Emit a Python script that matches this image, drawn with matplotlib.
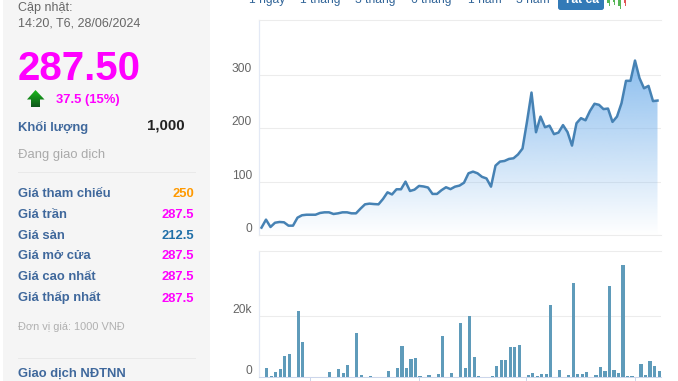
import numpy as np
import matplotlib
matplotlib.use("Agg")
import matplotlib.pyplot as plt
from matplotlib.patches import Rectangle, Polygon, FancyBboxPatch

plt.rcParams['font.family'] = ['Liberation Sans', 'DejaVu Sans']

# ---- data ----
price = [13.8, 28.8, 15, 23, 24.4, 23.8, 17.5, 17.5, 32.5, 37, 38, 38, 38, 41.3, 42.5, 42.5, 39.4, 40.6, 42.5, 42.5,
         40.6, 40.6, 49.4, 57.5, 58.8, 58, 57.5, 67.5, 80, 76, 85.7, 85.7, 100, 82.5, 85, 92, 91, 89, 77, 77,
         84, 89.5, 86, 90.6, 92.6, 98, 115.7, 118.8, 115.7, 109, 106, 90.6, 130, 137.6, 138.8, 142.6, 143.8, 151, 162, 212.5,
         267, 192.6, 222, 202, 205, 189, 192, 206, 193, 167.6, 209.5, 219, 215, 232.6, 246, 244, 236, 237, 212, 222,
         247, 289, 289, 327, 294, 275, 279.5, 251, 252]
volume = [0, 3000, 300, 1700, 2700, 6900, 7600, 0, 21600, 11300, 0, 0, 0, 0, 0, 1700, 0, 2700, 1300, 4000,
          0, 14200, 800, 0, 400, 0, 0, 0, 2100, 0, 3000, 10000, 3000, 6000, 6300, 400, 0, 700, 0, 1100,
          13200, 0, 1400, 0, 17600, 3000, 19800, 6600, 400, 0, 0, 400, 3700, 5600, 5600, 9900, 9600, 10500, 0, 800,
          1400, 400, 1100, 1100, 23400, 0, 2400, 0, 800, 30700, 1100, 1100, 1700, 0, 800, 3400, 2100, 29700, 2400, 1400,
          36500, 400, 400, 0, 4300, 800, 5300, 3700, 2100]
price_ticks = [0, 100, 200, 300]
price_labels = ['0', '100', '200', '300']
volume_ticks = [0, 20000]
volume_labels = ['0', '20k']
date_ticks = [10.6, 34.7, 58.5, 82.7]
ranges = ['1 ngày', '1 tháng', '3 tháng', '6 tháng', '1 năm', '3 năm']
range_centres = [267, 320.5, 375.5, 431, 485, 532.5]
info_rows = [('Giá tham chiếu', '250', '#ff9900', 197), ('Giá trần', '287.5', '#ff00ff', 218),
             ('Giá sàn', '212.5', '#1f6fa8', 239), ('Giá mở cửa', '287.5', '#ff00ff', 259),
             ('Giá cao nhất', '287.5', '#ff00ff', 280.5), ('Giá thấp nhất', '287.5', '#ff00ff', 301.5)]

W, H = 678, 381
fig = plt.figure(figsize=(W / 100, H / 100), dpi=100, facecolor='white')


def px_axes(l, t, r, b):
    return fig.add_axes([l / W, 1 - b / H, (r - l) / W, (b - t) / H], facecolor='none')


# ---- overlay in pixel coordinates ----
ov = fig.add_axes([0, 0, 1, 1], zorder=0)
ov.set_xlim(0, W)
ov.set_ylim(H, 0)
ov.axis('off')
ov.add_patch(Rectangle((3, -1), 207, H + 2, fc='#f5f5f5', ec='none'))
for y in (171.5, 357.5):
    ov.plot([18, 195], [y, y], color='#e9e9e9', lw=0.7)

LABEL = '#3f689c'
PT = 0.72


def t(x, y, s, size, color, bold=False, ha='left'):
    ov.text(x, y, s, fontsize=size * PT, color=color, fontweight='bold' if bold else 'normal',
            ha=ha, va='baseline')


t(18, 11, 'Cập nhật:', 12.5, '#666666')
t(18, 26, '14:20, T6, 28/06/2024', 12.5, '#666666')
t(18, 80, '287.50', 40.3, '#ff00ff', True)
t(56, 103, '37.5 (15%)', 13, '#ff00ff', True)
t(18, 130.5, 'Khối lượng', 13, LABEL, True)
t(185, 129, '1,000', 15, '#222222', True, ha='right')
t(18, 158, 'Đang giao dịch', 13, '#aaaaaa')
for name, val, col, y in info_rows:
    t(18, y, name, 13, LABEL, True)
    t(194, y, val, 13, col, True, ha='right')
t(18, 330, 'Đơn vị giá: 1000 VNĐ', 11, '#b0b0b0')
t(18, 377, 'Giao dịch NĐTNN', 13, LABEL, True)

# up arrow with a vertical green gradient
arrow = Polygon([(35.5, 90), (44.5, 99.5), (40, 99.5), (40, 107), (31, 107), (31, 99.5), (27, 99.5)],
                closed=True, fc='none', ec='none')
ov.add_patch(arrow)
grad = np.linspace(0, 1, 32)[:, None, None] * np.array([[[-0.05, -0.38, 0.0]]]) + np.array([[[0.1, 0.72, 0.1]]])
im = ov.imshow(grad, extent=(27, 44.5, 107, 90), aspect='auto', zorder=2)
im.set_clip_path(arrow)
ov.set_xlim(0, W)
ov.set_ylim(H, 0)

# range selector (clipped by the top of the picture)
for s, x in zip(ranges, range_centres):
    t(x, 3, s, 12, '#336699', ha='center')
ov.add_patch(FancyBboxPatch((558, -8), 46, 18, boxstyle='round,pad=0,rounding_size=2.5', fc='#337ab7', ec='none'))
t(581, 3, 'Tất cả', 12, 'white', True, ha='center')
for x, c, y0, y1 in ((608.5, '#55b555', -1, 3), (614, '#55b555', -1, 2), (619.5, '#55b555', -1, 6), (625, '#e05555', -1, 3)):
    ov.plot([x, x], [y0 - 1, y1 + 1.5], color=c, lw=0.7)
    ov.add_patch(Rectangle((x - 1.3, y0), 2.6, y1 - y0, fc=c, ec='none'))

# ---- price chart ----
ax = px_axes(259, 20, 661, 235)
ax.set_zorder(1)
x_price = np.arange(len(price))
ax.set_xlim((259 - 261.5) / 4.5, (661 - 261.5) / 4.5)
ax.set_ylim(0, 403)
poly = ax.fill_between(x_price, price, 0, facecolor='none', edgecolor='none')
rgba = np.ones((128, 1, 4))
rgba[..., 0], rgba[..., 1], rgba[..., 2] = 124 / 255, 181 / 255, 236 / 255
rgba[:, 0, 3] = np.linspace(0.88, 0.0, 128)
img = ax.imshow(rgba, extent=(0, len(price) - 1, 0, max(price)), aspect='auto', zorder=1.5)
img.set_clip_path(poly.get_paths()[0], transform=ax.transData)
ax.set_xlim((259 - 261.5) / 4.5, (661 - 261.5) / 4.5)
ax.set_ylim(0, 403)
ax.plot(x_price, price, color='#4682b4', lw=1.8, zorder=3, solid_joinstyle='round')
ax.set_yticks(price_ticks, price_labels)
ax.set_xticks([])

# ---- volume chart ----
ax2 = px_axes(259, 251, 661, 377)
ax2.set_zorder(1)
x_vol = np.arange(len(volume))
ax2.bar(x_vol, volume, width=0.7, color='#5f9bba', zorder=3, linewidth=0)
ax2.set_xlim((259 - 262.2) / 4.51, (661 - 262.2) / 4.51)
ax2.set_ylim(0, 41000)
ax2.set_yticks(volume_ticks, volume_labels)
ax2.set_xticks(date_ticks, [''] * len(date_ticks))
ax2.tick_params(axis='x', length=3.2, width=0.72, color='#ccd6eb')

for a in (ax, ax2):
    a.set_axisbelow(True)
    a.grid(axis='y', color='#ececec', lw=0.75)
    a.tick_params(axis='y', length=0, pad=5, labelsize=12 * PT, labelcolor='#666666')
    for lab in a.get_yticklabels():
        lab.set_verticalalignment('bottom')
    for side in ('right',):
        a.spines[side].set_visible(False)
    a.spines['left'].set_color('#e3e9f5')
    a.spines['left'].set_linewidth(0.9)
    a.spines['top'].set_color('#ececec')
    a.spines['top'].set_linewidth(0.75)
    a.spines['bottom'].set_linewidth(0.75)
ax.spines['bottom'].set_color('#ececec')
ax2.spines['bottom'].set_color('#ccd6eb')

fig.savefig('out.png', dpi=100)
